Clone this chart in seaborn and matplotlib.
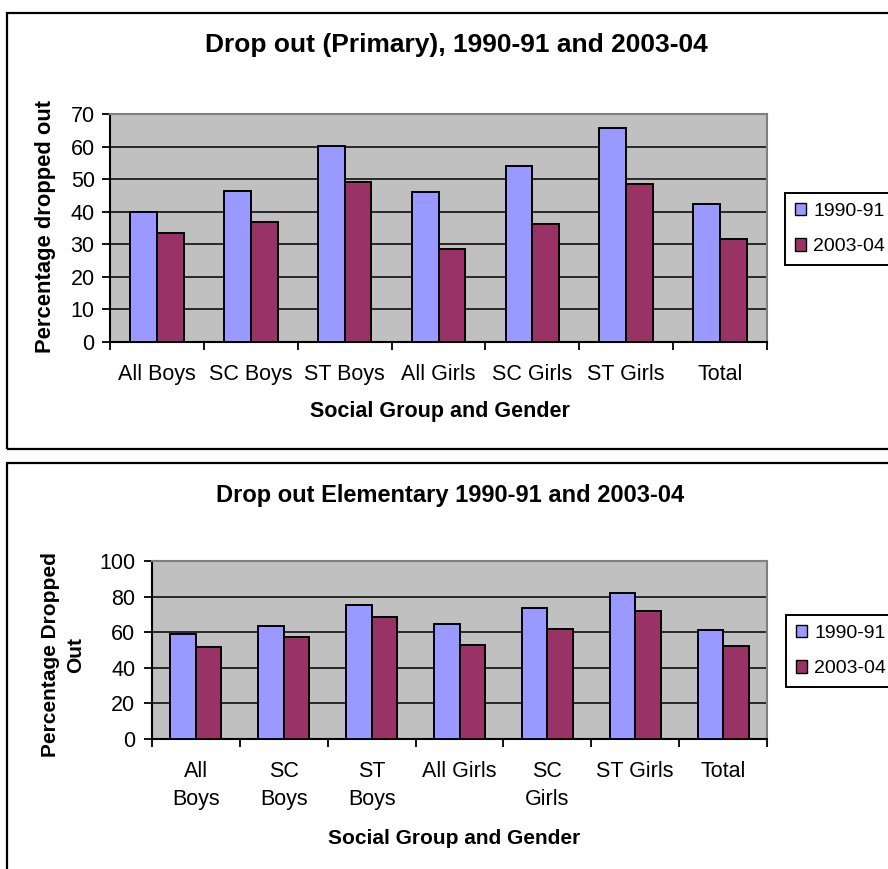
import matplotlib
matplotlib.use("Agg")
import matplotlib.pyplot as plt
from matplotlib.patches import Rectangle
from matplotlib.ticker import FixedLocator, NullFormatter
import numpy as np
import pandas as pd
import seaborn as sns

# Drop-out rates (%) by social group and gender
years = ["1990-91", "2003-04"]

primary_groups = ["All Boys", "SC Boys", "ST Boys", "All Girls", "SC Girls", "ST Girls", "Total"]
primary_1990 = [40.0, 46.4, 60.2, 45.9, 54.1, 65.8, 42.4]
primary_2003 = [33.6, 36.7, 49.0, 28.5, 36.2, 48.5, 31.6]

elem_groups = ["All\nBoys", "SC\nBoys", "ST\nBoys", "All Girls", "SC\nGirls", "ST Girls", "Total"]
elem_1990 = [59.1, 63.7, 75.5, 64.7, 73.5, 81.8, 61.0]
elem_2003 = [51.9, 57.5, 68.3, 52.8, 61.8, 71.8, 52.0]

primary_yticks = [0, 10, 20, 30, 40, 50, 60, 70]
elem_yticks = [0, 20, 40, 60, 80, 100]

BLUE = "#9999FF"
MAROON = "#993366"
PLOT_BG = "#C0C0C0"
FONT = "Liberation Sans"

sns.set_theme(style="white")
plt.rcParams["font.family"] = [FONT, "DejaVu Sans"]
plt.rcParams["text.color"] = "black"
plt.rcParams["axes.labelcolor"] = "black"
plt.rcParams["xtick.color"] = "black"
plt.rcParams["ytick.color"] = "black"

W, H = 888, 869
fig = plt.figure(figsize=(W / 100, H / 100), dpi=100)


def px_axes(left, top, right, bottom):
    return fig.add_axes([left / W, 1 - bottom / H, (right - left) / W, (bottom - top) / H])


def to_frame(groups, a, b):
    return pd.DataFrame({
        "group": list(groups) * 2,
        "value": list(a) + list(b),
        "year": [years[0]] * len(groups) + [years[1]] * len(groups),
    })


def draw_panel(ax, groups, a, b, yticks, width, label_pad, ytick_pad, linespacing):
    df = to_frame(groups, a, b)
    sns.barplot(data=df, x="group", y="value", hue="year", order=groups,
                hue_order=years, palette=[BLUE, MAROON], saturation=1,
                width=width, gap=0, edgecolor="black", linewidth=1.4,
                errorbar=None, ax=ax, legend=True, zorder=3)
    ax.set_facecolor(PLOT_BG)
    ax.set_xlim(-0.5, len(groups) - 0.5)
    ax.set_ylim(yticks[0], yticks[-1])
    ax.set_yticks(yticks)
    ax.yaxis.grid(True, color="black", linewidth=1.1, zorder=1)
    ax.xaxis.grid(False)
    ax.set_axisbelow(True)
    # category separators on the x axis
    ax.xaxis.set_minor_locator(FixedLocator(np.arange(-0.5, len(groups), 1.0)))
    ax.xaxis.set_minor_formatter(NullFormatter())
    ax.tick_params(axis="x", which="major", length=0, pad=label_pad, labelsize=15.5,
                   colors="black", labelcolor="black")
    ax.tick_params(axis="x", which="minor", length=6, width=1.3, direction="out",
                   color="black", bottom=True)
    ax.tick_params(axis="y", which="major", length=6, width=1.3, direction="out", pad=ytick_pad,
                   labelsize=15.5, colors="black", labelcolor="black", left=True)
    for lab in ax.get_xticklabels():
        lab.set_linespacing(linespacing)
    for side in ("left", "bottom"):
        ax.spines[side].set_color("black")
        ax.spines[side].set_linewidth(1.5)
    for side in ("top", "right"):
        ax.spines[side].set_color("#808080")
        ax.spines[side].set_linewidth(1.5)
        ax.spines[side].set_visible(True)
    ax.set_xlabel("")
    ax.set_ylabel("")
    handles, labels = ax.get_legend_handles_labels()
    ax.get_legend().remove()
    return handles, labels


def add_legend(handles, labels, x, y):
    leg = fig.legend(handles, labels, loc="upper left", bbox_to_anchor=(x / W, 1 - y / H),
                     bbox_transform=fig.transFigure, frameon=True, fancybox=False,
                     edgecolor="black", framealpha=1, fontsize=14, handlelength=0.6,
                     handleheight=0.6, handletextpad=0.35, borderpad=0.5,
                     labelspacing=0.95, borderaxespad=0)
    leg.get_frame().set_linewidth(1.4)
    for t in leg.get_texts():
        t.set_color("black")
    for h in leg.legend_handles:
        h.set_linewidth(1.0)
        h.set_edgecolor("black")


# outer frames around each chart
for (x0, y0, y1) in [(7, 13, 449), (7, 463, 900)]:
    fig.patches.append(Rectangle((x0 / W, 1 - y1 / H), (W + 20 - x0) / W, (y1 - y0) / H,
                                 transform=fig.transFigure, fill=False, edgecolor="black",
                                 linewidth=1.6, clip_on=False))

# Primary panel
ax1 = px_axes(110, 114, 767, 342)
h1, l1 = draw_panel(ax1, primary_groups, primary_1990, primary_2003, primary_yticks,
                    width=0.57, label_pad=16, ytick_pad=5, linespacing=1.2)
fig.text(456 / W, 1 - 45 / H, "Drop out (Primary), 1990-91 and 2003-04",
         ha="center", va="center", fontsize=19, fontweight="bold")
fig.text(45 / W, 1 - 226 / H, "Percentage dropped out", rotation=90,
         ha="center", va="center", fontsize=15.8, fontweight="bold")
fig.text(440 / W, 1 - 411 / H, "Social Group and Gender",
         ha="center", va="center", fontsize=15.5, fontweight="bold")
add_legend(h1, l1, 785, 193)

# Elementary panel
ax2 = px_axes(152, 561, 767, 739)
h2, l2 = draw_panel(ax2, elem_groups, elem_1990, elem_2003, elem_yticks,
                    width=0.58, label_pad=16, ytick_pad=6, linespacing=1.45)
fig.text(450 / W, 1 - 495 / H, "Drop out Elementary 1990-91 and 2003-04",
         ha="center", va="center", fontsize=17, fontweight="bold")
fig.text(63 / W, 1 - 655 / H, "Percentage Dropped\nOut", rotation=90,
         ha="center", va="center", fontsize=15, fontweight="bold", linespacing=1.4)
fig.text(454 / W, 1 - 838 / H, "Social Group and Gender",
         ha="center", va="center", fontsize=15, fontweight="bold")
add_legend(h2, l2, 786, 615)

fig.savefig("out.png", dpi=100, facecolor="white")
